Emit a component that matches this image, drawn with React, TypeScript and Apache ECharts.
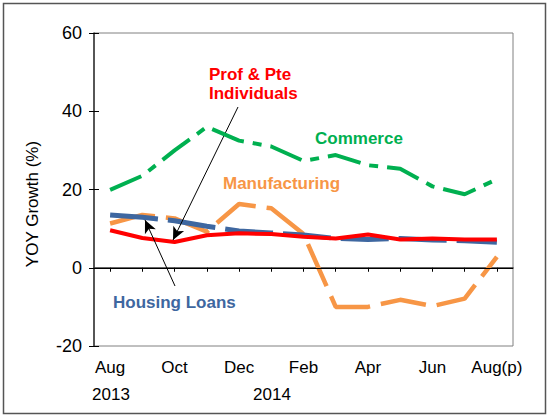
import React, { useEffect, useRef } from "react";
import * as echarts from "echarts";

const months = ["Aug", "Sep", "Oct", "Nov", "Dec", "Jan", "Feb", "Mar", "Apr", "May", "Jun", "Jul", "Aug(p)"];
const commerce = [19.9, 23.5, 30, 36, 32.5, 31, 27.3, 28.8, 26.2, 25.3, 20.8, 18.8, 22.6];
const manufacturing = [11.3, 13.5, 12.6, 9.2, 16.3, 15.2, 8.6, -10, -10, -8.2, -9.8, -7.9, 2.8];
const housing = [13.5, 12.9, 12, 10.6, 9.4, 8.9, 8.4, 7.5, 7.2, 7.5, 7.1, 6.9, 6.5];
const profPte = [9.6, 7.6, 6.6, 8.3, 8.8, 8.6, 7.9, 7.5, 8.5, 7.2, 7.5, 7.2, 7.2];
const yearLabels = ["2013", "2014"];

const FONT = "'Liberation Sans', Arial, sans-serif";

export default function App() {
  const ref = useRef<HTMLDivElement>(null);
  useEffect(() => {
    document.body.style.margin = "0";
    const chart = echarts.init(ref.current!, null, { renderer: "svg" });
    const option: any = {
      animation: false,
      backgroundColor: "#ffffff",
      grid: {
        left: 94,
        right: 36,
        top: 33,
        bottom: 71,
        show: true,
        borderColor: "#808080",
        borderWidth: 1,
      },
      xAxis: {
        type: "category",
        data: months,
        boundaryGap: true,
        axisLine: { show: true, lineStyle: { color: "#333", width: 1.5 } },
        axisTick: { show: true, alignWithLabel: true, interval: 0, length: 4, lineStyle: { color: "#000" } },
        axisLabel: { interval: 1, color: "#000", fontSize: 17, fontFamily: FONT, margin: 13 },
      },
      yAxis: [
        {
          type: "value",
          min: -20,
          max: 60,
          interval: 20,
          axisLine: { show: true, lineStyle: { color: "#333", width: 1.5 } },
          axisTick: { show: true, length: 5, lineStyle: { color: "#000" } },
          axisLabel: { color: "#000", fontSize: 18, fontFamily: FONT, margin: 12 },
          splitLine: { show: false },
        },
        {
          type: "value",
          min: -20,
          max: 60,
          interval: 20,
          position: "left",
          axisLine: { show: false },
          axisTick: { show: true, inside: true, length: 5, lineStyle: { color: "#000" } },
          axisLabel: { show: false },
          splitLine: { show: false },
        },
      ],
      series: [
        {
          name: "Manufacturing",
          type: "line",
          data: manufacturing,
          symbol: "none",
          lineStyle: { color: "#F79646", width: 4.5, type: [46, 11], cap: "butt" },
          z: 2,
          markLine: {
            silent: true,
            symbol: "none",
            label: { show: false },
            lineStyle: { color: "#000", width: 1, type: "solid" },
            data: [{ yAxis: 0 }],
          },
        },
        {
          name: "Housing Loans",
          type: "line",
          data: housing,
          symbol: "none",
          lineStyle: { color: "#3E67A0", width: 5, type: [48, 10], cap: "butt" },
          z: 3,
        },
        {
          name: "Prof & Pte Individuals",
          type: "line",
          data: profPte,
          symbol: "none",
          lineStyle: { color: "#FF0000", width: 4, type: "solid" },
          z: 4,
          markLine: {
            silent: true,
            symbol: ["none", "arrow"],
            symbolSize: [9, 13],
            label: { show: false },
            lineStyle: { color: "#000", width: 1, type: "solid" },
            data: [
              [{ x: 238, y: 107 }, { x: 173, y: 240 }],
              [{ x: 175, y: 286 }, { x: 145, y: 220 }],
            ],
          },
        },
        {
          name: "Commerce",
          type: "line",
          data: commerce,
          symbol: "none",
          lineStyle: { color: "#00B050", width: 4, type: [34, 9, 9, 9], cap: "butt" },
          z: 5,
        },
      ],
      graphic: [
        {
          type: "rect",
          shape: { x: 3.5, y: 3.5, width: 542, height: 410 },
          style: { fill: "none", stroke: "#555", lineWidth: 1.5 },
          z: 0,
        },
        {
          type: "text",
          x: 32,
          y: 204,
          rotation: Math.PI / 2,
          style: { text: "YOY Growth (%)", font: `17px ${FONT}`, fill: "#000", align: "center", verticalAlign: "middle" },
        },
        {
          type: "text",
          x: 111,
          y: 394,
          style: { text: yearLabels[0], font: `17px ${FONT}`, fill: "#000", align: "center", verticalAlign: "middle" },
        },
        {
          type: "text",
          x: 272,
          y: 394,
          style: { text: yearLabels[1], font: `17px ${FONT}`, fill: "#000", align: "center", verticalAlign: "middle" },
        },
        {
          type: "text",
          x: 209,
          y: 64.5,
          style: { text: "Prof & Pte\nIndividuals", font: `bold 17px ${FONT}`, fill: "#FF0000", lineHeight: 19, verticalAlign: "top" },
        },
        {
          type: "text",
          x: 315,
          y: 138,
          style: { text: "Commerce", font: `bold 17px ${FONT}`, fill: "#00B050", verticalAlign: "middle" },
        },
        {
          type: "text",
          x: 223,
          y: 183,
          style: { text: "Manufacturing", font: `bold 17px ${FONT}`, fill: "#F79646", verticalAlign: "middle" },
        },
        {
          type: "text",
          x: 113,
          y: 302,
          style: { text: "Housing Loans", font: `bold 17px ${FONT}`, fill: "#3E67A0", verticalAlign: "middle" },
        },
      ],
    };
    chart.setOption(option);
    return () => chart.dispose();
  }, []);
  return <div ref={ref} style={{ width: 549, height: 417 }} />;
}
